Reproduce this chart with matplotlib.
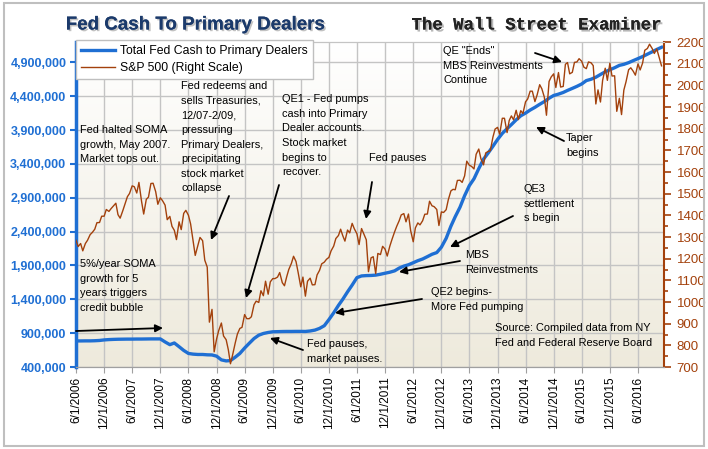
import pandas as pd
import matplotlib.pyplot as plt
import matplotlib.patheffects as pe
from matplotlib.patches import Rectangle
import numpy as np

W, H = 708, 449

# Total Fed cash to primary dealers, monthly, thousands of $
fed_cash_k = [
    785, 785, 786, 786, 788, 792, 800,
    805, 808, 810, 811, 812, 812, 813, 813, 814, 815, 815, 815,
    770, 730, 755, 700, 645, 600, 590, 585, 585, 580, 578, 560,
    505, 490, 495, 545, 600, 680, 750, 820, 870, 895, 910, 920,
    922, 924, 925, 925, 926, 926, 925, 932, 945, 970, 1010, 1100,
    1200, 1310, 1400, 1510, 1610, 1720, 1745, 1750, 1752, 1757, 1770, 1785,
    1800, 1820, 1860, 1890, 1910, 1940, 1970, 1995, 2030, 2065, 2090, 2170,
    2300, 2480, 2620, 2760, 2930, 3080, 3180, 3330, 3470, 3560, 3660, 3760,
    3850, 3920, 3980, 4050, 4110, 4150, 4195, 4235, 4280, 4320, 4370, 4410,
    4430, 4455, 4485, 4515, 4545, 4580, 4630, 4650, 4680, 4720, 4760, 4790,
    4820, 4855, 4870, 4895, 4925, 4955, 4985, 5020, 5055, 5090, 5122,
]
fed_dates = pd.date_range('2006-06-01', periods=len(fed_cash_k), freq='MS')

# S&P 500, 1st and 15th of each month
sp500 = [
    1285, 1256, 1270, 1236, 1270, 1285, 1311, 1321, 1336, 1366, 1367, 1396, 1396, 1427,
    1418, 1431, 1445, 1456, 1403, 1387, 1421, 1452, 1486, 1501, 1536, 1532,
    1503, 1552, 1465, 1406, 1474, 1484, 1547, 1548, 1509, 1451, 1481, 1468,
    1447, 1380, 1395, 1349, 1331, 1288, 1370, 1334, 1409, 1423, 1400, 1360,
    1284, 1215, 1260, 1298, 1283, 1193, 1161, 907, 966, 770, 830, 869,
    903, 843, 826, 780, 715, 756, 811, 852, 878, 883, 942, 923,
    923, 932, 987, 1004, 998, 1052, 1029, 1096, 1036, 1093, 1108, 1108,
    1115, 1136, 1089, 1075, 1115, 1150, 1178, 1211, 1187, 1136, 1070, 1115,
    1027, 1096, 1110, 1079, 1080, 1125, 1146, 1176, 1184, 1197, 1206, 1236,
    1258, 1293, 1307, 1336, 1306, 1281, 1332, 1319, 1363, 1338, 1315, 1265,
    1339, 1316, 1287, 1140, 1204, 1209, 1131, 1224, 1219, 1257, 1244, 1212,
    1258, 1289, 1324, 1350, 1374, 1402, 1408, 1370, 1406, 1330, 1278, 1342,
    1365, 1356, 1375, 1405, 1406, 1465, 1444, 1440, 1427, 1353, 1416, 1413,
    1426, 1472, 1513, 1520, 1518, 1561, 1562, 1552, 1582, 1650, 1631, 1626,
    1614, 1682, 1706, 1661, 1633, 1688, 1695, 1698, 1761, 1798, 1806, 1775,
    1848, 1848, 1782, 1838, 1859, 1841, 1885, 1842, 1883, 1870, 1924, 1937,
    1973, 1973, 1925, 1955, 2003, 1984, 1946, 1862, 2018, 2039, 2053, 1990,
    2059, 1992, 1995, 2097, 2105, 2053, 2060, 2106, 2108, 2123, 2111, 2084,
    2077, 2108, 2104, 2091, 1914, 1979, 1923, 2023, 2079, 2023, 2102, 2043,
    2044, 1880, 1940, 1865, 1978, 2016, 2072, 2081, 2065, 2047, 2099, 2071,
    2103, 2162, 2170, 2190, 2170, 2147, 2168, 2133, 2090,
]
sp_dates = pd.date_range('2006-06-01', periods=len(sp500), freq='SMS')

x_ticks = pd.date_range('2006-06-01', '2016-06-01', freq='6MS')
x_labels = [f"{d.month}/{d.day}/{d.year}" for d in x_ticks]
left_ticks = list(range(400000, 5000000, 500000))
right_ticks = list(range(700, 2300, 100))

BLUE = '#1F6FD3'
BROWN = '#A3410C'

plt.rcParams['font.family'] = ['Liberation Sans', 'DejaVu Sans']

fig = plt.figure(figsize=(W / 100, H / 100), dpi=100)


def fxy(px, py):
    return px / W, 1 - py / H


ax = fig.add_axes([76 / W, 1 - 367 / H, (664 - 76) / W, (367 - 42) / H])
ax2 = ax.twinx()

# gradient background
grad = np.linspace(0, 1, 256).reshape(-1, 1)
top = np.array([1.0, 1.0, 1.0])
bot = np.array([0xEE, 0xEA, 0xDC]) / 255
img = top * (1 - grad[..., None]) + bot * grad[..., None]
ax.imshow(img, extent=[0, 1, 0, 1], transform=ax.transAxes, aspect='auto', zorder=0)

ax.plot(fed_dates, np.array(fed_cash_k) * 1000, color=BLUE, lw=2.4, zorder=3,
        label='Total Fed Cash to Primary Dealers')
ax2.plot(sp_dates, sp500, color=BROWN, lw=1.0, label='S&P 500 (Right Scale)')

ax.set_xlim(pd.Timestamp('2006-06-01'), pd.Timestamp('2016-11-17'))
ax.set_ylim(400000, 5200000)
ax2.set_ylim(700, 2200)

ax.set_axisbelow(True)
ax.grid(True, color='#C4C4C4', lw=1.0)
ax.set_xticks(x_ticks)
ax.set_xticklabels(x_labels, rotation=90, fontsize=8.5)
ax.set_yticks(left_ticks)
ax.set_yticklabels([f"{v:,}" for v in left_ticks], color=BLUE, fontsize=9,
                   fontweight='bold')
ax2.set_yticks(right_ticks)
ax2.set_yticklabels([str(v) for v in right_ticks], color=BROWN, fontsize=9.5)
ax2.set_yticks(np.arange(750, 2200, 100), minor=True)

ax.tick_params(axis='y', colors=BLUE, length=4, width=1.5, pad=3)
ax.tick_params(axis='y', labelcolor=BLUE)
ax.tick_params(axis='x', colors='#A0A0A0', length=4, labelcolor='black', pad=3)
ax2.tick_params(axis='y', which='both', colors=BROWN, width=1.2)
ax2.tick_params(axis='y', which='major', length=5, labelcolor=BROWN, pad=4)
ax2.tick_params(axis='y', which='minor', length=3)

for a in (ax, ax2):
    a.spines['top'].set_color('#C4C4C4')
    a.spines['bottom'].set_color('#A0A0A0')
ax.spines['left'].set_color(BLUE)
ax.spines['left'].set_linewidth(2.5)
ax2.spines['left'].set_visible(False)
ax2.spines['right'].set_color(BROWN)
ax2.spines['right'].set_linewidth(1.5)
ax.spines['right'].set_visible(False)

# legend
h1, l1 = ax.get_legend_handles_labels()
h2, l2 = ax2.get_legend_handles_labels()
leg = fig.legend(h1 + h2, l1 + l2, loc='upper left', bbox_to_anchor=fxy(76, 40),
                 fontsize=8.8, frameon=True, fancybox=False, edgecolor='#BFBFBF',
                 framealpha=1, borderaxespad=0, handlelength=2.8,
                 borderpad=0.4, labelspacing=0.4, handletextpad=0.4)
leg.get_frame().set_linewidth(1.0)
leg.set_zorder(10)

# titles
fig.text(*fxy(195, 25), 'Fed Cash To Primary Dealers', ha='center', va='center',
         fontsize=13.5, fontweight='bold', color='#1B3A6B',
         path_effects=[pe.withSimplePatchShadow(offset=(1.2, -1.2), shadow_rgbFace='#999999', alpha=0.6),
                       pe.Normal()])
fig.text(*fxy(536, 25), 'The Wall Street Examiner', ha='center', va='center',
         fontsize=12.5, fontweight='bold', family='Liberation Mono', color='#222222',
         path_effects=[pe.withSimplePatchShadow(offset=(1.5, -1.5), shadow_rgbFace='#888888', alpha=0.6),
                       pe.Normal()])

# annotations
notes = [
    (80, 131, "Fed halted SOMA\ngrowth, May 2007.\nMarket tops out."),
    (80, 265, "5%/year SOMA\ngrowth for 5\nyears triggers\ncredit bubble"),
    (181, 87, "Fed redeems and\nsells Treasuries,\n12/07-2/09,\npressuring\nPrimary Dealers,\nprecipitating\nstock market\ncollapse"),
    (282, 100, "QE1 - Fed pumps\ncash into Primary\nDealer accounts.\nStock market\nbegins to\nrecover."),
    (369, 159, "Fed pauses"),
    (524, 190, "QE3\nsettlement\ns begin"),
    (465, 256, "MBS\nReinvestments"),
    (431, 293, "QE2 begins-\nMore Fed pumping"),
    (495, 329, "Source: Compiled data from NY\nFed and Federal Reserve Board"),
    (307, 345, "Fed pauses,\nmarket pauses."),
    (443, 52, "QE \"Ends\"\nMBS Reinvestments\nContinue"),
    (566, 139, "Taper\nbegins"),
]
for px, py, s in notes:
    fig.text(*fxy(px, py - 6), s, ha='left', va='top', fontsize=7.9,
             linespacing=1.58, color='black', zorder=6)

arrows = [
    ((76, 331), (163, 328)),
    ((229, 196), (211, 240)),
    ((279, 185), (246, 298)),
    ((372, 182), (366, 219)),
    ((513, 216), (450, 247)),
    ((460, 261), (399, 272)),
    ((422, 299), (335, 313)),
    ((303, 350), (270, 338)),
    ((535, 53), (562, 62)),
    ((564, 141), (536, 127)),
]
for tail, head in arrows:
    ax.annotate('', xy=fxy(*head), xytext=fxy(*tail), xycoords='figure fraction',
                textcoords='figure fraction', annotation_clip=False,
                arrowprops=dict(arrowstyle='-|>', color='black', lw=1.3,
                                mutation_scale=11, shrinkA=0, shrinkB=0))

# outer border
fig.patches.append(Rectangle(fxy(4, 446), 700 / W, 443 / H, transform=fig.transFigure,
                             fill=False, edgecolor='#BFBFBF', lw=1.5))

fig.savefig('out.png', dpi=100)
